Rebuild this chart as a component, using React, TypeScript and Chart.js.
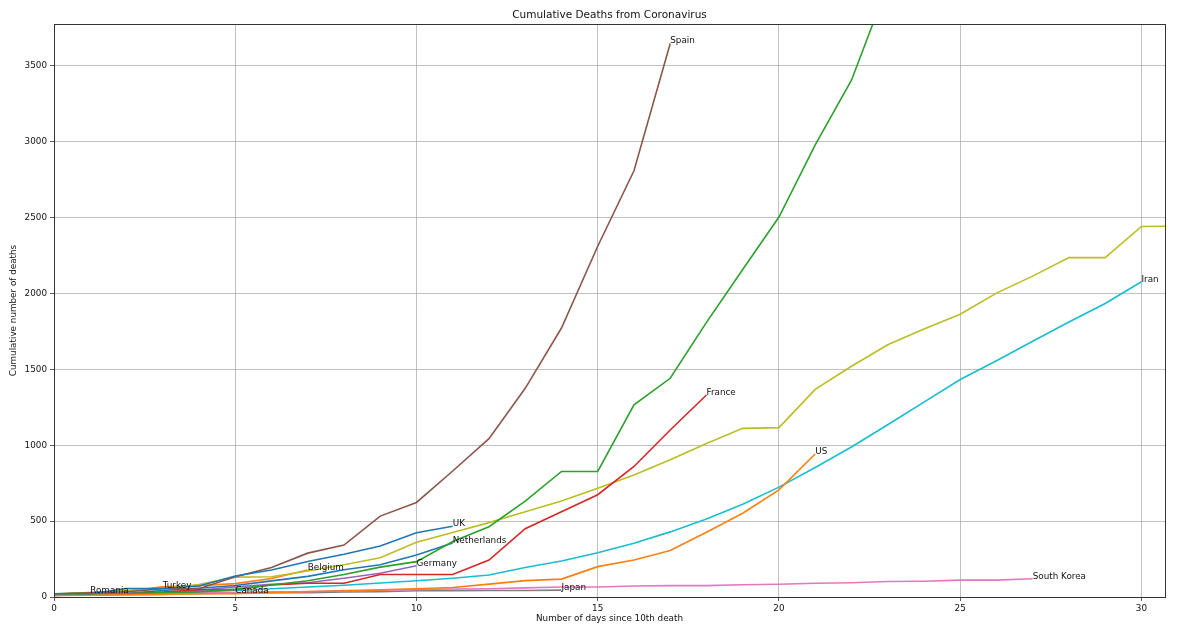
import { useEffect, useRef } from 'react';
import { Chart, registerables } from 'chart.js';

Chart.register(...registerables);

// cumulative deaths, index = days since 10th death
const uk = [21, 21, 56, 56, 72, 138, 178, 234, 282, 336, 423, 466];
const us = [11, 12, 14, 17, 21, 22, 28, 36, 40, 47, 54, 63, 85, 108, 118, 200, 244, 307, 427, 552, 706, 942];
const italy = [12, 17, 21, 29, 34, 52, 79, 107, 148, 197, 233, 366, 463, 631, 827, 827, 1266, 1441, 1809, 2158, 2503, 2978, 3405, 4032, 4825, 5476, 6077, 6820, 7503];
const france = [11, 19, 19, 33, 48, 48, 79, 91, 91, 148, 148, 148, 243, 450, 562, 674, 860, 1100, 1331];
const germany = [11, 17, 24, 28, 44, 67, 84, 94, 123, 157, 206];
const spain = [17, 28, 35, 54, 55, 133, 195, 289, 342, 533, 623, 830, 1043, 1375, 1772, 2311, 2808, 3647];
const southKorea = [13, 13, 16, 17, 28, 28, 35, 35, 42, 44, 50, 53, 54, 60, 66, 66, 72, 75, 75, 81, 84, 91, 94, 102, 104, 111, 111, 120];
const japan = [15, 16, 19, 22, 22, 27, 29, 29, 33, 35, 41, 42, 43, 43, 45];
const china = [18, 26, 42, 56, 82, 131, 133, 171, 213, 259, 361, 425, 490, 562, 632, 717, 804, 904, 1011, 1111, 1116, 1368, 1520, 1662, 1765, 1863, 2002, 2114, 2236, 2236, 2441, 2443, 2593];
const iran = [12, 16, 19, 26, 34, 43, 54, 66, 77, 92, 107, 124, 145, 194, 237, 291, 354, 429, 514, 611, 724, 853, 988, 1135, 1284, 1433, 1556, 1685, 1812, 1934, 2077];
const netherlands = [12, 20, 24, 43, 58, 76, 106, 136, 179, 213, 276, 356];
const belgium = [14, 21, 37, 67, 75, 88, 122, 178];
const turkey = [21, 30, 37, 59];
const romania = [19, 27];
const canada = [12, 19, 21, 25, 26, 27];

const xTicks = [0, 5, 10, 15, 20, 25, 30];
const yTicks = [0, 500, 1000, 1500, 2000, 2500, 3000, 3500];

const countries = [
  { name: 'UK', values: uk, color: '#1f77b4' },
  { name: 'US', values: us, color: '#ff7f0e' },
  { name: 'Italy', values: italy, color: '#2ca02c' },
  { name: 'France', values: france, color: '#d62728' },
  { name: 'Germany', values: germany, color: '#9467bd' },
  { name: 'Spain', values: spain, color: '#8c564b' },
  { name: 'South Korea', values: southKorea, color: '#e377c2' },
  { name: 'Japan', values: japan, color: '#7f7f7f' },
  { name: 'China', values: china, color: '#bcbd22' },
  { name: 'Iran', values: iran, color: '#17becf' },
  { name: 'Netherlands', values: netherlands, color: '#1f77b4' },
  { name: 'Belgium', values: belgium, color: '#ff7f0e' },
  { name: 'Turkey', values: turkey, color: '#2ca02c' },
  { name: 'Romania', values: romania, color: '#d62728' },
  { name: 'Canada', values: canada, color: '#9467bd' },
];

const FONT = '"DejaVu Sans", sans-serif';

const decorations = {
  id: 'decorations',
  afterDatasetsDraw(chart: any) {
    const { ctx, chartArea, scales } = chart;
    const x = scales.x;
    const y = scales.y;
    ctx.save();
    // country name at the end of each line
    ctx.font = `8.8px ${FONT}`;
    ctx.fillStyle = '#111';
    ctx.textAlign = 'left';
    ctx.textBaseline = 'alphabetic';
    chart.data.datasets.forEach((ds: any) => {
      const last = ds.data[ds.data.length - 1];
      const px = x.getPixelForValue(last.x);
      const py = y.getPixelForValue(last.y);
      if (px > chartArea.right || py < chartArea.top) return;
      ctx.fillText(ds.label, px, py);
    });

    // frame
    ctx.strokeStyle = '#333';
    ctx.lineWidth = 1;
    ctx.strokeRect(
      Math.round(chartArea.left) + 0.5,
      Math.round(chartArea.top) + 0.5,
      Math.round(chartArea.right - chartArea.left),
      Math.round(chartArea.bottom - chartArea.top),
    );

    const cx = (chartArea.left + chartArea.right) / 2;
    const cy = (chartArea.top + chartArea.bottom) / 2;
    ctx.textAlign = 'center';
    ctx.textBaseline = 'middle';
    ctx.font = `10.5px ${FONT}`;
    ctx.fillText('Cumulative Deaths from Coronavirus', cx, 15);
    ctx.font = `8.8px ${FONT}`;
    ctx.fillText('Number of days since 10th death', cx, 619);
    ctx.translate(14, cy);
    ctx.rotate(-Math.PI / 2);
    ctx.fillText('Cumulative number of deaths', 0, 0);
    ctx.restore();
  },
};

function App() {
  const canvasRef = useRef<HTMLCanvasElement | null>(null);

  useEffect(() => {
    document.body.style.margin = '0';
    const tickFont = { family: FONT, size: 8.8 };
    const chart = new Chart(canvasRef.current as HTMLCanvasElement, {
      type: 'line',
      data: {
        datasets: countries.map((c) => ({
          label: c.name,
          data: c.values.map((v, i) => ({ x: i, y: v })),
          borderColor: c.color,
          backgroundColor: c.color,
          borderWidth: 1.6,
          pointRadius: 0,
          tension: 0,
          fill: false,
        })),
      },
      options: {
        responsive: false,
        animation: false,
        layout: { padding: { top: 24, right: 15, bottom: 0, left: 0 } },
        plugins: {
          legend: { display: false },
          title: { display: false },
          tooltip: { enabled: false },
        },
        scales: {
          x: {
            type: 'linear',
            min: 0,
            max: 30.65,
            afterBuildTicks: (s: any) => {
              s.ticks = xTicks.map((v) => ({ value: v }));
            },
            afterFit: (s: any) => {
              s.height = 34;
            },
            ticks: { font: tickFont, color: '#111', padding: 2, maxRotation: 0, callback: (v: any) => String(v) },
            grid: { color: '#b0b0b0', lineWidth: 0.8, tickLength: 4, tickColor: '#333' },
            border: { color: '#333', width: 1 },
          },
          y: {
            type: 'linear',
            min: 0,
            max: 3775,
            afterBuildTicks: (s: any) => {
              s.ticks = yTicks.map((v) => ({ value: v }));
            },
            afterFit: (s: any) => {
              s.width = 54;
            },
            ticks: { font: tickFont, color: '#111', padding: 3, callback: (v: any) => String(v) },
            grid: { color: '#b0b0b0', lineWidth: 0.8, tickLength: 4, tickColor: '#333' },
            border: { color: '#333', width: 1 },
          },
        },
      },
      plugins: [decorations],
    });

    return () => chart.destroy();
  }, []);

  return (
    <div style={{ width: 1180, height: 631, background: '#fff' }}>
      <canvas ref={canvasRef} width={1180} height={631}></canvas>
    </div>
  );
}

export default App;
